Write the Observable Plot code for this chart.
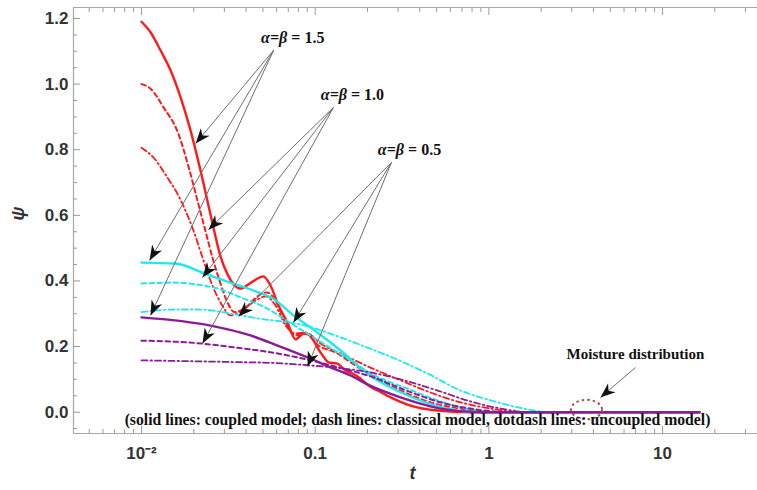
<!DOCTYPE html>
<html><head><meta charset="utf-8">
<script src="https://cdn.jsdelivr.net/npm/d3@7"></script>
<script src="https://cdn.jsdelivr.net/npm/@observablehq/plot@0.6"></script>
<style>body{margin:0;background:#fff;}</style>
</head><body><div id="chart"></div>
<script>
// ---- data: [t, psi] pairs ----
const redSolid = [[0.01,1.19],[0.01127,1.158],[0.01286,1.103],[0.01469,1.042],[0.01677,0.960],[0.01915,0.859],[0.02186,0.737],[0.02495,0.603],[0.02849,0.475],[0.03128,0.420],[0.03386,0.390],[0.03715,0.377],[0.0436,0.398],[0.0503,0.414],[0.0553,0.386],[0.0615,0.325],[0.0693,0.273],[0.0771,0.222],[0.0857,0.240],[0.0914,0.237],[0.1074,0.182],[0.1194,0.152],[0.1344,0.148],[0.149,0.127],[0.164,0.118],[0.182,0.103],[0.203,0.081],[0.229,0.066],[0.272,0.045],[0.354,0.020],[0.506,0.005],[0.78,0],[16.3,0]];
const redDash = [[0.01,1.0],[0.01127,0.986],[0.0134,0.929],[0.0163,0.849],[0.0187,0.746],[0.021,0.645],[0.0233,0.554],[0.0256,0.472],[0.0285,0.392],[0.0313,0.334],[0.0343,0.305],[0.0397,0.319],[0.0466,0.353],[0.0525,0.365],[0.0591,0.340],[0.0675,0.273],[0.0771,0.234],[0.088,0.240],[0.1045,0.203],[0.131,0.182],[0.171,0.142],[0.222,0.106],[0.31,0.066],[0.461,0.030],[0.687,0.011],[1.17,0],[16.3,0]];
const redDotDash = [[0.01,0.806],[0.01173,0.776],[0.0141,0.715],[0.0161,0.666],[0.0179,0.615],[0.0199,0.554],[0.02244,0.472],[0.0256,0.386],[0.0292,0.325],[0.0325,0.295],[0.038,0.31],[0.0453,0.340],[0.0518,0.353],[0.0591,0.325],[0.0675,0.264],[0.0771,0.240],[0.088,0.243],[0.1074,0.209],[0.149,0.172],[0.208,0.136],[0.31,0.097],[0.461,0.060],[0.687,0.030],[1.02,0.011],[1.52,0],[16.3,0]];
const cyanSolid = [[0.01,0.456],[0.0157,0.453],[0.0225,0.425],[0.0325,0.395],[0.0472,0.365],[0.0576,0.345],[0.075,0.295],[0.103,0.243],[0.14,0.188],[0.203,0.115],[0.322,0.057],[0.548,0.014],[0.86,0],[16.3,0]];
const cyanDash = [[0.01,0.392],[0.0153,0.395],[0.021,0.389],[0.0274,0.377],[0.0372,0.350],[0.0503,0.322],[0.075,0.266],[0.1117,0.209],[0.1596,0.158],[0.203,0.122],[0.354,0.068],[0.506,0.036],[0.687,0.014],[1.17,0],[16.3,0]];
const cyanDotDash = [[0.01,0.305],[0.0153,0.313],[0.021,0.313],[0.0325,0.301],[0.0442,0.288],[0.0904,0.262],[0.14,0.228],[0.2,0.197],[0.283,0.165],[0.443,0.118],[0.687,0.066],[1.06,0.034],[1.52,0.013],[2.26,0],[16.3,0]];
const purpleSolid = [[0.01,0.289],[0.02495,0.264],[0.0424,0.234],[0.0607,0.203],[0.0904,0.167],[0.1274,0.133],[0.1596,0.112],[0.203,0.083],[0.31,0.045],[0.526,0.011],[0.89,0],[16.3,0]];
const purpleDash = [[0.01,0.218],[0.02244,0.209],[0.0325,0.199],[0.0472,0.188],[0.0576,0.181],[0.0904,0.160],[0.14,0.135],[0.208,0.109],[0.354,0.061],[0.526,0.030],[0.78,0.011],[1.33,0],[16.3,0]];
const purpleDotDash = [[0.01,0.158],[0.0325,0.153],[0.0576,0.150],[0.0904,0.143],[0.14,0.134],[0.208,0.121],[0.31,0.10],[0.506,0.066],[0.78,0.033],[1.17,0.011],[1.73,0],[16.3,0]];

const xTicks = [0.01, 0.1, 1, 10];
const xTickLabels = ["10\u207B\u00B2", "0.1", "1", "10"];
const xMinorTicks = [0.005,0.006,0.007,0.008,0.009,0.02,0.03,0.04,0.05,0.06,0.07,0.08,0.09,0.2,0.3,0.4,0.5,0.6,0.7,0.8,0.9,2,3,4,5,6,7,8,9,20,30];
const yTicks = [0, 0.2, 0.4, 0.6, 0.8, 1.0, 1.2];
const yTickLabels = ["0.0","0.2","0.4","0.6","0.8","1.0","1.2"];
const yMinorTicks = [-0.05,0.05,0.1,0.15,0.25,0.3,0.35,0.45,0.5,0.55,0.65,0.7,0.75,0.85,0.9,0.95,1.05,1.1,1.15];

const labelVals = ["1.5", "1.0", "0.5"];
const labelT = [0.0700, 0.1545, 0.3290];
const labelPsi = [1.142, 0.968, 0.798];
const arrowOrigins = [[0.0576,1.103],[0.1274,0.929],[0.2749,0.7613]];
const arrowTips = [
  [[0.0205,0.819],[0.01112,0.4625],[0.01127,0.295]],
  [[0.0243,0.5564],[0.02244,0.4107],[0.02244,0.2094]],
  [[0.03617,0.2918],[0.0750,0.2735],[0.0903,0.1393]]
];
const moistureLabel = "Moisture distribution";
const moistureText = [6.98, 0.176];
const moistureArrow = [[6.98,0.136],[4.39,0.0448]];
const moistureEllipse = [3.65, 0.008];
const caption = "(solid lines: coupled model; dash lines: classical model, dotdash lines: uncoupled model)";

// ---- layout ----
const W = 757, H = 490;
const M = {top: 7, right: 0, bottom: 57, left: 73};
const xDomain = [0.00406, 35.2], yDomain = [-0.065, 1.2335];
const xRange = [M.left, W - M.right], yRange = [H - M.bottom, M.top];
const sx = Plot.scale({x: {type: "log", domain: xDomain, range: xRange}});
const sy = Plot.scale({y: {type: "linear", domain: yDomain, range: yRange}});

const RED = "#ff1a1a", CYAN = "#1de9f0", PURPLE = "#8a1c98";
const series = [
  {d: redSolid, c: RED, dash: null, w: 2.4},
  {d: redDash, c: RED, dash: "4.5,3.5", w: 2},
  {d: redDotDash, c: RED, dash: "6,3,1.5,3", w: 1.8},
  {d: cyanSolid, c: CYAN, dash: null, w: 2.4},
  {d: cyanDash, c: CYAN, dash: "4.5,3.5", w: 2},
  {d: cyanDotDash, c: CYAN, dash: "6,3,1.5,3", w: 1.8},
  {d: purpleSolid, c: PURPLE, dash: null, w: 2.4},
  {d: purpleDash, c: PURPLE, dash: "4.5,3.5", w: 2},
  {d: purpleDotDash, c: PURPLE, dash: "6,3,1.5,3", w: 1.8}
];

const arrows = [];
arrowTips.forEach((tips, i) => tips.forEach(tp => arrows.push({x1: arrowOrigins[i][0], y1: arrowOrigins[i][1], x2: tp[0], y2: tp[1]})));
arrows.push({x1: moistureArrow[0][0], y1: moistureArrow[0][1], x2: moistureArrow[1][0], y2: moistureArrow[1][1]});
const angle = a => {
  const dx = sx.apply(a.x2) - sx.apply(a.x1), dy = sy.apply(a.y2) - sy.apply(a.y1);
  return Math.atan2(dx, -dy) * 180 / Math.PI;
};
const arrowHead = {draw(ctx, size) {
  const r = Math.sqrt(size / Math.PI);
  const L = r * 2.2, w = r * 0.85, n = r * 1.55;
  ctx.moveTo(0, 0); ctx.lineTo(w, L); ctx.lineTo(0, n); ctx.lineTo(-w, L); ctx.closePath();
}};
const ellipse = {draw(ctx, size) {
  const r = Math.sqrt(size / Math.PI), rx = r * 1.6, ry = r, k = 0.5523;
  ctx.moveTo(rx, 0);
  ctx.bezierCurveTo(rx, ry*k, rx*k, ry, 0, ry);
  ctx.bezierCurveTo(-rx*k, ry, -rx, ry*k, -rx, 0);
  ctx.bezierCurveTo(-rx, -ry*k, -rx*k, -ry, 0, -ry);
  ctx.bezierCurveTo(rx*k, -ry, rx, -ry*k, rx, 0);
  ctx.closePath();
}};
const labels = labelVals.map((v, i) => ({t: labelT[i], p: labelPsi[i], v: "= " + v}));
const serif = "'Liberation Serif', 'Times New Roman', serif";
const TICK = "#9a9a9a";

const plot = Plot.plot({
  width: W, height: H,
  marginTop: M.top, marginRight: M.right, marginBottom: M.bottom, marginLeft: M.left,
  x: {type: "log", domain: xDomain, range: xRange, label: null},
  y: {domain: yDomain, range: yRange, label: null},
  style: {fontFamily: "'Liberation Sans', Arial, sans-serif", fontSize: "17px", fontWeight: "bold", background: "#fff", color: "#333", overflow: "visible"},
  marks: [
    Plot.ruleX([xDomain[0]], {stroke: "#a8a8a8", strokeWidth: 1.2}),
    Plot.ruleY([yDomain[0], yDomain[1]], {stroke: "#a8a8a8", strokeWidth: 1.2}),
    Plot.axisX(xTicks, {anchor: "bottom", tickSize: -7, tickFormat: () => "", stroke: TICK}),
    Plot.axisX(xMinorTicks, {anchor: "bottom", tickSize: -4, tickFormat: () => "", stroke: TICK}),
    Plot.axisX(xTicks, {anchor: "top", tickSize: -7, tickFormat: () => "", stroke: TICK}),
    Plot.axisX(xMinorTicks, {anchor: "top", tickSize: -4, tickFormat: () => "", stroke: TICK}),
    Plot.axisY(yTicks, {anchor: "left", tickSize: -7, tickFormat: () => "", stroke: TICK}),
    Plot.axisY(yMinorTicks, {anchor: "left", tickSize: -4, tickFormat: () => "", stroke: TICK}),
    Plot.axisX(xTicks, {anchor: "bottom", tickSize: 0, tickPadding: 13, tickFormat: d => xTickLabels[xTicks.indexOf(d)], fill: "#333"}),
    Plot.axisY(yTicks, {anchor: "left", tickSize: 0, tickPadding: 5, tickFormat: d => yTickLabels[yTicks.indexOf(d)], fill: "#333"}),
    Plot.text(["t"], {text: d => d, frameAnchor: "bottom", dy: 45, dx: -3, fontStyle: "italic", fontSize: 18, fill: "#333"}),
    Plot.text(["\u03C8"], {text: d => d, frameAnchor: "left", dx: -55, rotate: -90, fontStyle: "italic", fontSize: 18, fill: "#333"}),
    ...series.map(s => Plot.line(s.d, {x: d => d[0], y: d => d[1], stroke: s.c, strokeWidth: s.w, strokeDasharray: s.dash, curve: "monotone-x"})),
    Plot.link(arrows, {x1: "x1", y1: "y1", x2: "x2", y2: "y2", stroke: "#6e6e6e", strokeWidth: 1}),
    Plot.dot(arrows, {x: "x2", y: "y2", symbol: arrowHead, r: 6.8, fill: "#111", stroke: null, rotate: angle}),
    Plot.dot([moistureEllipse], {x: d => d[0], y: d => d[1], symbol: ellipse, r: 9.7, fill: "none", stroke: "#a05555", strokeWidth: 2, strokeDasharray: "2.5,3"}),
    Plot.text(labels, {x: "t", y: "p", text: () => "\u03B1=\u03B2", textAnchor: "end", dx: -1, fontFamily: serif, fontStyle: "italic", fontSize: 16, fill: "#111"}),
    Plot.text(labels, {x: "t", y: "p", text: "v", textAnchor: "start", dx: 3, fontFamily: serif, fontSize: 16, fill: "#111"}),
    Plot.text([moistureText], {x: d => d[0], y: d => d[1], text: () => moistureLabel, fontFamily: serif, fontSize: 15, fill: "#111"}),
    Plot.text([caption], {text: d => d, frameAnchor: "bottom", dy: -9, dx: 2, fontFamily: serif, fontSize: 15.7, fill: "#111"})
  ]
});
document.getElementById("chart").appendChild(plot);
</script>
</body></html>
